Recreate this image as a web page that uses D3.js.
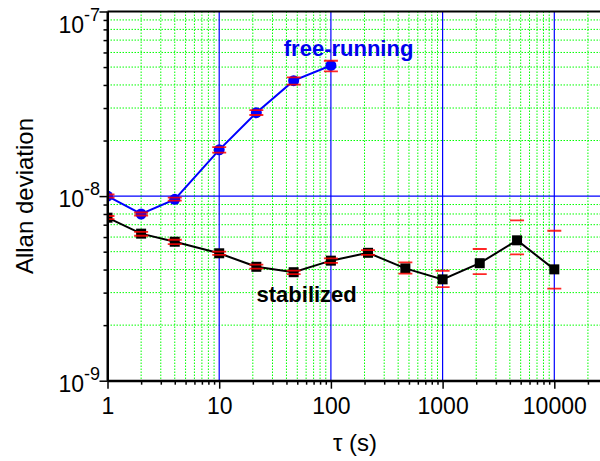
<!DOCTYPE html>
<html>
<head>
<meta charset="utf-8">
<script src="https://cdn.jsdelivr.net/npm/d3@7"></script>
<style>
  body { margin: 0; background: #fff; }
  svg { display: block; font-family: "Liberation Sans", Arial, sans-serif; }
</style>
</head>
<body>
<svg id="chart" width="600" height="461"></svg>
<script>
// data
const tau = [1, 2, 4, 10, 21.5, 46.4, 100, 215, 464, 1000, 2150, 4640, 10000];

const freeTau = tau.slice(0, 7);
const freeDev = [1.0e-8, 8.0e-9, 9.6e-9, 1.78e-8, 2.83e-8, 4.22e-8, 5.10e-8];
const freeHi = [1.02e-8, 8.15e-9, 9.8e-9, 1.84e-8, 2.92e-8, 4.40e-8, 5.41e-8];
const freeLo = [0.98e-8, 7.85e-9, 9.45e-9, 1.72e-8, 2.75e-8, 4.02e-8, 4.74e-8];

const stabDev = [7.64e-9, 6.26e-9, 5.66e-9, 4.90e-9, 4.14e-9, 3.87e-9, 4.47e-9, 4.93e-9, 4.06e-9, 3.54e-9, 4.33e-9, 5.76e-9, 4.01e-9];
const stabHi = [7.8e-9, 6.4e-9, 5.8e-9, 5.0e-9, 4.25e-9, 3.95e-9, 4.6e-9, 5.1e-9, 4.38e-9, 3.94e-9, 5.17e-9, 7.39e-9, 6.49e-9];
const stabLo = [7.5e-9, 6.1e-9, 5.5e-9, 4.8e-9, 4.05e-9, 3.78e-9, 4.35e-9, 4.8e-9, 3.80e-9, 3.21e-9, 3.78e-9, 4.84e-9, 3.15e-9];

const xMajor = [1, 10, 100, 1000, 10000];
const yMajor = [1e-9, 1e-8, 1e-7];
const yExp = [-9, -8, -7];

/* scales */
const svg = d3.select("#chart");
const pLeft = 107.5, pTop = 11.5, pBottom = 380.7, pRight = 607.6;
const x = d3.scaleLog().domain([1, 30000]).range([pLeft, pRight]);
const y = d3.scaleLog().domain([1e-9, 1e-7]).range([pBottom, pTop]);

const xMinor = [];
[1, 10, 100, 1000, 10000].forEach(d => {
  for (let k = 2; k <= 9; k++) if (d * k < 30000) xMinor.push(d * k);
});
const yMinor = [];
[1e-9, 1e-8].forEach(d => {
  for (let k = 2; k <= 9; k++) yMinor.push(d * k);
});

/* grid */
const grid = svg.append("g");
grid.selectAll(".vmin").data(xMinor).enter().append("line")
  .attr("x1", d => x(d)).attr("x2", d => x(d))
  .attr("y1", pTop).attr("y2", pBottom)
  .attr("stroke", "#00ff00").attr("stroke-width", 1)
  .attr("stroke-dasharray", "1.5,1.5");
grid.selectAll(".hmin").data(yMinor).enter().append("line")
  .attr("y1", d => y(d)).attr("y2", d => y(d))
  .attr("x1", pLeft).attr("x2", 600)
  .attr("stroke", "#00ff00").attr("stroke-width", 1)
  .attr("stroke-dasharray", "1.5,1.5");
grid.selectAll(".vmaj").data(xMajor.slice(1)).enter().append("line")
  .attr("x1", d => x(d)).attr("x2", d => x(d))
  .attr("y1", pTop).attr("y2", pBottom)
  .attr("stroke", "#0000ff").attr("stroke-width", 1.2);
grid.selectAll(".hmaj").data([1e-8]).enter().append("line")
  .attr("y1", d => y(d)).attr("y2", d => y(d))
  .attr("x1", pLeft).attr("x2", 600)
  .attr("stroke", "#0000ff").attr("stroke-width", 1.2);

/* series */
svg.append("clipPath").attr("id", "plot")
  .append("rect").attr("x", pLeft).attr("y", pTop)
  .attr("width", pRight - pLeft).attr("height", pBottom - pTop);
const plot = svg.append("g").attr("clip-path", "url(#plot)");

const line = d3.line().x(d => x(d[0])).y(d => y(d[1]));

const freePts = freeTau.map((t, i) => [t, freeDev[i]]);
const stabPts = tau.map((t, i) => [t, stabDev[i]]);

plot.append("path").datum(stabPts).attr("d", line)
  .attr("fill", "none").attr("stroke", "#000").attr("stroke-width", 2);
plot.append("path").datum(freePts).attr("d", line)
  .attr("fill", "none").attr("stroke", "#0000ff").attr("stroke-width", 2);

plot.selectAll(".sq").data(stabPts).enter().append("rect")
  .attr("x", d => x(d[0]) - 5).attr("y", d => y(d[1]) - 5)
  .attr("width", 10).attr("height", 10).attr("fill", "#000");
plot.selectAll(".ci").data(freePts).enter().append("circle")
  .attr("cx", d => x(d[0])).attr("cy", d => y(d[1]))
  .attr("r", 5.5).attr("fill", "#0000ff");

function caps(taus, vals) {
  plot.selectAll(null).data(taus.map((t, i) => [t, vals[i]])).enter().append("line")
    .attr("x1", d => x(d[0]) - 7).attr("x2", d => x(d[0]) + 7)
    .attr("y1", d => y(d[1])).attr("y2", d => y(d[1]))
    .attr("stroke", "#ff0000").attr("stroke-width", 1.8).attr("stroke-opacity", 0.85);
}
caps(freeTau, freeHi);
caps(freeTau, freeLo);
caps(tau, stabHi);
caps(tau, stabLo);

/* axes */
const ax = svg.append("g").attr("transform", `translate(0,${pBottom})`);
ax.call(d3.axisBottom(x).tickValues(xMinor).tickSize(4).tickSizeOuter(0).tickFormat(""));
ax.call(g => g.select(".domain").remove());
const axMaj = svg.append("g").attr("transform", `translate(0,${pBottom})`);
axMaj.call(d3.axisBottom(x).tickValues(xMajor).tickSize(8).tickSizeOuter(0)
  .tickPadding(9).tickFormat(d3.format("d")));
axMaj.selectAll("text").attr("font-size", 23).attr("fill", "#000")
  .attr("font-family", "'Liberation Sans', Arial, sans-serif");

const ay = svg.append("g").attr("transform", `translate(${pLeft},0)`);
ay.call(d3.axisLeft(y).tickValues(yMinor).tickSize(4).tickSizeOuter(0).tickFormat(""));
ay.call(g => g.select(".domain").remove());
const ayMaj = svg.append("g").attr("transform", `translate(${pLeft},0)`);
ayMaj.call(d3.axisLeft(y).tickValues(yMajor).tickSize(8).tickSizeOuter(0).tickFormat(""));

svg.selectAll(".tick line").attr("stroke", "#000").attr("stroke-width", 1.5);
svg.selectAll(".domain").attr("stroke", "#000").attr("stroke-width", 2);

// frame lines
svg.append("line").attr("x1", pLeft).attr("x2", 600).attr("y1", pTop).attr("y2", pTop)
  .attr("stroke", "#000").attr("stroke-width", 2);
svg.append("line").attr("x1", pLeft).attr("x2", pLeft).attr("y1", pTop).attr("y2", pBottom)
  .attr("stroke", "#000").attr("stroke-width", 2);
svg.append("line").attr("x1", pLeft).attr("x2", 600).attr("y1", pBottom).attr("y2", pBottom)
  .attr("stroke", "#000").attr("stroke-width", 2);

// y labels with superscripts
const yl = svg.selectAll(".ylab").data(yMajor).enter().append("text")
  .attr("x", 100).attr("y", d => Math.max(y(d) + 11, 33))
  .attr("text-anchor", "end").attr("font-size", 23).attr("fill", "#000");
yl.append("tspan").text("10");
yl.append("tspan").attr("font-size", 18).attr("dy", -12)
  .text((d, i) => String(yExp[i]));

/* titles */
svg.append("text").attr("transform", `translate(33,196) rotate(-90)`)
  .attr("text-anchor", "middle").attr("font-size", 24).attr("fill", "#000")
  .text("Allan deviation");
svg.append("text").attr("x", 355).attr("y", 451)
  .attr("text-anchor", "middle").attr("font-size", 24).attr("fill", "#000")
  .text("τ (s)");

svg.append("text").attr("x", x(144)).attr("y", y(5.74e-8))
  .attr("text-anchor", "middle").attr("font-size", 22).attr("font-weight", "bold")
  .attr("fill", "#0000ee").text("free-running");
svg.append("text").attr("x", x(60.7)).attr("y", y(2.68e-9))
  .attr("text-anchor", "middle").attr("font-size", 22).attr("font-weight", "bold")
  .attr("fill", "#000").text("stabilized");
</script>
</body>
</html>
